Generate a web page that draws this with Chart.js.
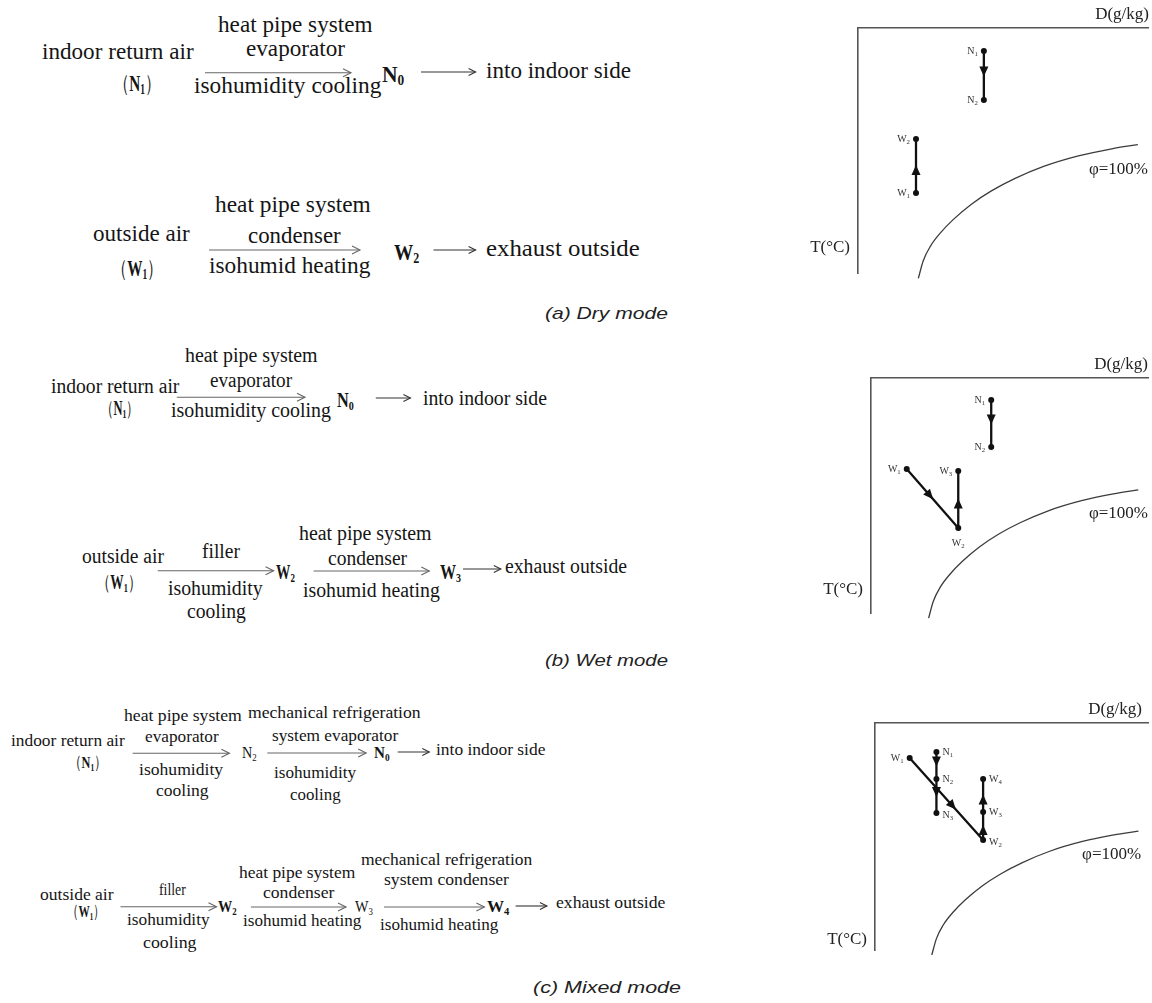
<!DOCTYPE html>
<html><head><meta charset="utf-8">
<script src="https://cdn.jsdelivr.net/npm/chart.js@4.4.0/dist/chart.umd.min.js"></script>
<style>
html,body{margin:0;padding:0;background:#fff;}
#page{position:relative;width:1152px;height:1003px;overflow:hidden;background:#fff;}
.t{position:absolute;white-space:nowrap;font-family:"Liberation Serif",serif;color:#151515;line-height:1;transform-origin:0 50%;}
.t sub{font-size:0.62em;vertical-align:-0.28em;line-height:0;}
.cap{position:absolute;white-space:nowrap;font-family:"Liberation Sans",Arial,sans-serif;font-style:italic;color:#222;line-height:1;transform-origin:0 50%;}
.panel{position:absolute;}
#arrows{position:absolute;left:0;top:0;}
</style></head>
<body><div id="page"><svg id="arrows" width="1152" height="1003"></svg></div>
<script>
// ---------- data: saturation line (phi = 100%) ----------
const satD = [20.8, 22.5, 25.0, 28.5, 33.0, 39.0, 46.0, 54.0, 64.0, 76.0, 87.5, 96.5];
const satT = [-2.2, 5.0, 11.0, 16.5, 22.0, 28.0, 33.5, 38.5, 43.5, 47.8, 50.7, 52.4];

// ---------- (a) Dry mode ----------
const dryStates = ['N1', 'N2', 'W1', 'W2'];
const dryD = [43.4, 43.4, 20.0, 20.0];
const dryT = [90.6, 70.6, 32.7, 54.7];
const dryPaths = [['N1', 'N2'], ['W1', 'W2']];

// ---------- (b) Wet mode ----------
const wetStates = ['N1', 'N2', 'W1', 'W2', 'W3'];
const wetD = [43.4, 43.4, 12.9, 31.5, 31.5];
const wetT = [90.6, 70.6, 61.3, 36.2, 60.4];
const wetPaths = [['N1', 'N2'], ['W1', 'W2', 'W3']];

// ---------- (c) Mixed mode ----------
const mixStates = ['N1', 'N2', 'N3', 'W1', 'W2', 'W3', 'W4'];
const mixD = [22.5, 22.5, 22.5, 12.7, 39.6, 39.6, 39.6];
const mixT = [87.2, 75.3, 60.4, 84.6, 48.5, 60.8, 75.3];
const mixPaths = [['N1', 'N2', 'N3'], ['W1', 'W2', 'W3', 'W4']];

const axisLabels = { x: 'D(g/kg)', y: 'T(\u00B0C)', curve: '\u03C6=100%' };

// ================= left-hand flow diagrams (text layout) =================
const page = document.getElementById('page');
function addText(html, x1, x2, yc, size, cls) {
  const el = document.createElement('div');
  el.className = cls || 't';
  el.innerHTML = html;
  el.style.fontSize = size + 'px';
  el.style.left = x1 + 'px';
  el.style.top = yc + 'px';
  page.appendChild(el);
  const w = el.getBoundingClientRect().width;
  const k = (x2 - x1) / w;
  el.style.transform = 'translateY(-50%) scaleX(' + k + ')';
}
const N = (d, b) => (b ? '<b>N<sub>' + d + '</sub></b>' : 'N<sub>' + d + '</sub>');
const W = (d, b) => (b ? '<b>W<sub>' + d + '</sub></b>' : 'W<sub>' + d + '</sub>');
const P = s => '\uFF08' + s + '\uFF09';

const rowA = [
  ['heat pipe system', 218, 372.5, 24], ['indoor return air', 42, 193.6, 51], ['evaporator', 246, 345, 48],
  [P(N(1, 1)), 113.6, 160, 83], ['isohumidity cooling', 193.6, 381, 85], [N(0, 1), 381.7, 404, 74],
  ['into indoor side', 486, 631, 70],
  ['heat pipe system', 214.6, 370.4, 204], ['outside air', 92.6, 189.4, 233], ['condenser', 248.3, 341, 235],
  [P(W(1, 1)), 111.5, 162, 268], ['isohumid heating', 209, 370.4, 265], [W(2, 1), 393.5, 418.8, 252],
  ['exhaust outside', 486, 639.7, 248]
];
const rowB = [
  ['heat pipe system', 185.2, 317.8, 355], ['indoor return air', 50.5, 178.9, 386], ['evaporator', 210.4, 292.5, 380],
  [P(N(1, 1)), 101, 138.9, 408], ['isohumidity cooling', 170.5, 330.4, 410], [N(0, 1), 336.7, 353.5, 400],
  ['into indoor side', 423, 547, 398],
  ['filler', 202, 240, 551], ['heat pipe system', 298.8, 431.4, 533], ['outside air', 82, 164, 556],
  ['condenser', 328.3, 407.4, 558], [W(2, 1), 275.7, 294.6, 572], [W(3, 1), 439.8, 460.9, 572],
  ['exhaust outside', 505, 627, 566], [P(W(1, 1)), 96.8, 141, 582], ['isohumidity', 168.4, 263, 588],
  ['cooling', 187.3, 246.2, 611], ['isohumid heating', 303, 439.8, 590]
];
const rowC = [
  ['heat pipe system', 124.2, 242, 716], ['mechanical refrigeration', 248.3, 420.9, 713],
  ['indoor return air', 10.5, 124.2, 741], ['evaporator', 145.2, 218.9, 737], ['system evaporator', 271.5, 397.7, 736],
  [N(2, 0), 242, 256.7, 753], [N(0, 1), 373.7, 389.3, 753], ['into indoor side', 435.6, 545, 750],
  [P(N(1, 1)), 69.4, 107.3, 763], ['isohumidity', 138.9, 223, 770], ['cooling', 155.7, 208.3, 791],
  ['isohumidity', 273.6, 355.6, 773], ['cooling', 290.4, 341, 795],
  ['mechanical refrigeration', 360.7, 532, 860], ['heat pipe system', 238.8, 355, 873],
  ['system condenser', 384, 509, 880], ['outside air', 40.2, 113.8, 895], ['filler', 158.5, 185.3, 890],
  ['condenser', 263.4, 334.8, 893], [W(2, 1), 217.9, 236.6, 907], [W(3, 0), 354.9, 372.8, 907],
  [W(4, 1), 486.6, 509, 907], ['exhaust outside', 555.8, 665.2, 903], [P(W(1, 1)), 67, 104.9, 912],
  ['isohumidity', 127.2, 209.8, 920], ['cooling', 142.9, 196.4, 943], ['isohumid heating', 243.3, 361.6, 921],
  ['isohumid heating', 379.5, 497.8, 925]
];
rowA.forEach(r => addText(r[0], r[1], r[2], r[3], 23));
rowB.forEach(r => addText(r[0], r[1], r[2], r[3], 20));
rowC.forEach(r => addText(r[0], r[1], r[2], r[3], 17.5));
addText('(a) Dry mode', 545, 668, 313, 17, 'cap');
addText('(b) Wet mode', 545, 668, 660, 17, 'cap');
addText('(c) Mixed mode', 533, 681, 987, 17, 'cap');

// arrows of the flow diagrams
const svg = document.getElementById('arrows');
function arrow(x1, x2, y, color, head) {
  const ns = 'http://www.w3.org/2000/svg';
  const l = document.createElementNS(ns, 'line');
  l.setAttribute('x1', x1); l.setAttribute('x2', x2); l.setAttribute('y1', y); l.setAttribute('y2', y);
  l.setAttribute('stroke', color); l.setAttribute('stroke-width', 1.1);
  svg.appendChild(l);
  const p = document.createElementNS(ns, 'polyline');
  p.setAttribute('points', (x2 - head) + ',' + (y - head * 0.5) + ' ' + x2 + ',' + y + ' ' + (x2 - head) + ',' + (y + head * 0.5));
  p.setAttribute('fill', 'none'); p.setAttribute('stroke', color); p.setAttribute('stroke-width', 1.1);
  svg.appendChild(p);
}
[[205, 351, 72.7], [209, 360, 250], [176.8, 305, 397.3], [157.8, 273.6, 570.7], [313.6, 429.3, 571],
 [132.6, 229.4, 753.3], [267.3, 366.2, 753], [120.5, 216.5, 906.7], [250.9, 346, 907], [384, 484.4, 907]]
  .forEach(a => arrow(a[0], a[1], a[2], '#666', 8));
[[421, 475.6, 72], [433.5, 475.6, 250], [375.8, 410.4, 398], [463, 500.8, 569], [397.7, 429.3, 752], [515.6, 546.9, 906]]
  .forEach(a => arrow(a[0], a[1], a[2], '#333', 7));

// ================= right-hand psychrometric sketches (Chart.js) =================
function drawName(ctx, name, x, y, align, size) {
  const main = name[0], sub = name.slice(1);
  ctx.font = size + 'px "Liberation Serif"';
  const w1 = ctx.measureText(main).width;
  ctx.font = (size * 0.68) + 'px "Liberation Serif"';
  const w2 = ctx.measureText(sub).width;
  const tot = w1 + w2;
  const x0 = align === 'right' ? x - tot : align === 'center' ? x - tot / 2 : x;
  ctx.textAlign = 'left'; ctx.textBaseline = 'middle';
  ctx.font = size + 'px "Liberation Serif"'; ctx.fillText(main, x0, y);
  ctx.font = (size * 0.68) + 'px "Liberation Serif"'; ctx.fillText(sub, x0 + w1, y + size * 0.3);
}
const decorPlugin = {
  id: 'decor',
  afterDatasetsDraw(chart) {
    const o = chart.options.plugins.decor;
    const ctx = chart.ctx, xs = chart.scales.x, ys = chart.scales.y, ca = chart.chartArea;
    ctx.save();
    // arrowheads along each process segment
    ctx.fillStyle = '#111';
    chart.data.datasets.forEach((ds, i) => {
      if (!ds.arrows) return;
      const pts = chart.getDatasetMeta(i).data;
      for (let j = 0; j < pts.length - 1; j++) {
        const p = pts[j], q = pts[j + 1];
        const ang = Math.atan2(q.y - p.y, q.x - p.x);
        const f = (ds.arrowPos && ds.arrowPos[j]) || 0.5;
        const tx = p.x + (q.x - p.x) * f + Math.cos(ang);
        const ty = p.y + (q.y - p.y) * f + Math.sin(ang);
        ctx.beginPath();
        ctx.moveTo(tx, ty);
        ctx.lineTo(tx - Math.cos(ang) * 10 - Math.sin(ang) * 4.5, ty - Math.sin(ang) * 10 + Math.cos(ang) * 4.5);
        ctx.lineTo(tx - Math.cos(ang) * 10 + Math.sin(ang) * 4.5, ty - Math.sin(ang) * 10 - Math.cos(ang) * 4.5);
        ctx.closePath(); ctx.fill();
      }
    });
    // state point labels
    ctx.fillStyle = '#333';
    o.states.forEach((s, i) => {
      const px = xs.getPixelForValue(o.D[i]), py = ys.getPixelForValue(o.T[i]);
      const side = o.side[s];
      if (side === 'left') drawName(ctx, s, px - 6, py, 'right', 10);
      else if (side === 'right') drawName(ctx, s, px + 6, py + (o.dy[s] || 0), 'left', 10);
      else drawName(ctx, s, px, py + 15, 'center', 10);
    });
    // axis / curve labels
    ctx.fillStyle = '#222';
    ctx.font = '17px "Liberation Serif"';
    ctx.textBaseline = 'middle';
    ctx.textAlign = 'right';
    ctx.fillText(axisLabels.x, ca.right + o.dRight, ca.top - o.dUp);
    ctx.fillText(axisLabels.y, ca.left - 8, ys.getPixelForValue(o.tY));
    ctx.fillText(axisLabels.curve, xs.getPixelForValue(o.phiX), ys.getPixelForValue(42.2));
    ctx.restore();
  }
};

function makePanel(box, canvasTop, states, D, T, paths, decor, arrowPos) {
  const cv = document.createElement('canvas');
  cv.className = 'panel';
  cv.width = 372; cv.height = 300;
  cv.style.left = '780px'; cv.style.top = canvasTop + 'px';
  cv.style.width = '372px'; cv.style.height = '300px';
  page.appendChild(cv);
  const pt = name => { const i = states.indexOf(name); return { x: D[i], y: T[i] }; };
  const datasets = [{
    data: satD.map((d, i) => ({ x: d, y: satT[i] })),
    showLine: true, borderColor: '#3c3c3c', borderWidth: 1.3, pointRadius: 0,
    tension: 0.4, cubicInterpolationMode: 'monotone', clip: false
  }];
  paths.forEach((p, k) => datasets.push({
    data: p.map(pt), showLine: true, arrows: true, arrowPos: (arrowPos || [])[k],
    borderColor: '#111', borderWidth: 2.3, pointRadius: 3, pointBackgroundColor: '#111',
    pointBorderWidth: 0, clip: false
  }));
  decor.states = states; decor.D = D; decor.T = T;
  new Chart(cv, {
    type: 'scatter',
    data: { datasets },
    options: {
      responsive: false, animation: false, devicePixelRatio: 1,
      layout: { padding: { left: box[0] - 780, top: box[1] - canvasTop, right: 1152 - box[2], bottom: canvasTop + 300 - box[3] } },
      plugins: { legend: { display: false }, tooltip: { enabled: false }, decor },
      scales: {
        x: { type: 'linear', position: 'top', min: 0, max: 100,
             grid: { display: false, drawTicks: false }, ticks: { display: false },
             border: { display: true, color: '#555', width: 1.6 } },
        y: { type: 'linear', position: 'left', min: 0, max: 100,
             grid: { display: false, drawTicks: false }, ticks: { display: false },
             border: { display: true, color: '#555', width: 1.6 } }
      }
    },
    plugins: [decorPlugin]
  });
}

makePanel([858, 28, 1148, 273], 0, dryStates, dryD, dryT, dryPaths,
  { side: { N1: 'left', N2: 'left', W1: 'left', W2: 'left' }, dy: {}, tY: 10.2, phiX: 100, dRight: 1, dUp: 13 });
makePanel([871, 378, 1150, 613], 338, wetStates, wetD, wetT, wetPaths,
  { side: { N1: 'left', N2: 'left', W1: 'left', W2: 'below', W3: 'left' }, dy: {}, tY: 9.8, phiX: 100, dRight: 0, dUp: 13 });
makePanel([875, 723, 1150, 950], 683, mixStates, mixD, mixT, mixPaths,
  { side: { N1: 'right', N2: 'right', N3: 'right', W1: 'left', W2: 'right', W3: 'right', W4: 'right' },
    dy: { N3: 2, W2: 2 }, tY: 4.4, phiX: 97.5, dRight: -6, dUp: 13 },
  [null, [0.62, 0.5, 0.5]]);
</script>
</body></html>
